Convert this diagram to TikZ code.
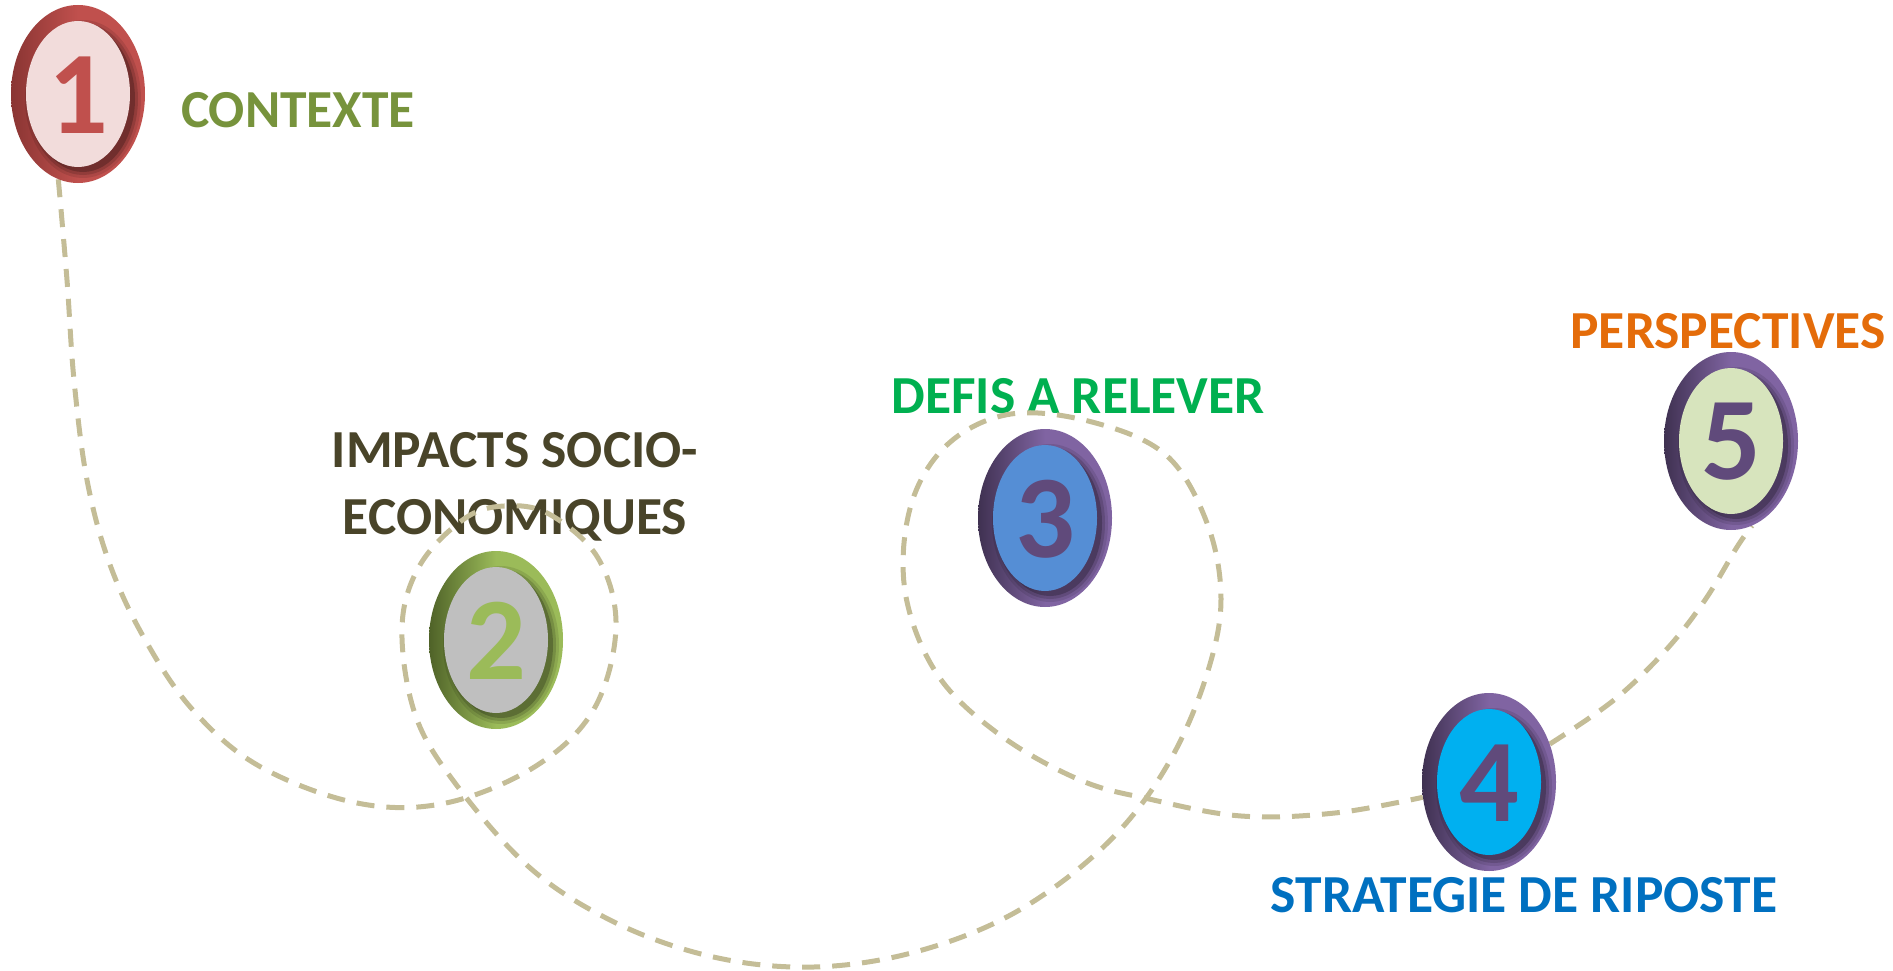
\documentclass[tikz,border=0pt]{standalone}
\usepackage{fontspec}
\setmainfont{Carlito}
\usetikzlibrary{shapes.geometric,calc}
\definecolor{tanc}{HTML}{C4BD97}
\definecolor{redring}{HTML}{C0504D}
\definecolor{reddark}{HTML}{8A3533}
\definecolor{redin}{HTML}{F2DCDB}
\definecolor{grnring}{HTML}{9BBB59}
\definecolor{grndark}{HTML}{4F6228}
\definecolor{greyin}{HTML}{BFBFBF}
\definecolor{purring}{HTML}{8064A2}
\definecolor{purdark}{HTML}{3F3151}
\definecolor{purnum}{HTML}{604A7B}
\definecolor{bluein}{HTML}{558ED5}
\definecolor{cyanin}{HTML}{00B0F0}
\definecolor{lgrnin}{HTML}{D7E4BD}
\definecolor{ctxc}{HTML}{77933C}
\definecolor{impc}{HTML}{494429}
\definecolor{defc}{HTML}{00B050}
\definecolor{perc}{HTML}{E46C0A}
\definecolor{strc}{HTML}{0070C0}
\pgfdeclarelayer{txt}
\pgfdeclarelayer{trk}
\pgfsetlayers{txt,trk,main}
\newcommand\mybadge[7]{%
  \node[ring, left color=#4, right color=#3, middle color=#3] (#1) at (#2) {};
  \foreach \r/\o in {6/0.10,3/0.15,0/0.22}
    \fill[black, opacity=\o] ($(#1.center)+(5,5)$) ellipse [x radius=52+\r, y radius=73+\r];
  \fill[#5] (#1.center) ellipse [x radius=52, y radius=73];
  \node[num, text=#6] (#1n) at ($(#1.center)+(0,1)$) {#7};
}
\begin{document}
\begin{tikzpicture}[x=1pt,y=-1pt,
  lbl/.style={font=\bfseries\fontsize{53.5}{64}\selectfont, anchor=base, inner sep=0},
  num/.style={font=\bfseries\fontsize{118}{130}\selectfont, inner sep=0},
  ring/.style={ellipse, minimum width=134pt, minimum height=178pt, inner sep=0, draw=none},
  track/.style={draw=tanc, line width=5pt, dash pattern=on 18pt off 12pt}
]
\useasboundingbox (0,0) rectangle (1893,971);

% badges
\mybadge{c1}{78,94}{redring}{reddark}{redin}{redring}{1}
\mybadge{c2}{496,640}{grnring}{grndark}{greyin}{grnring}{2}
\mybadge{c3}{1045,518}{purring}{purdark}{bluein}{purnum}{3}
\mybadge{c4}{1489,782}{purring}{purdark}{cyanin}{purnum}{4}
\mybadge{c5}{1731,441}{purring}{purdark}{lgrnin}{purnum}{5}

% labels
\begin{pgfonlayer}{txt}
\node[lbl, text=ctxc] (t1) at (298,128) {CONTEXTE};
\node[lbl, text=impc] (t2a) at (515,467) {IMPACTS SOCIO-};
\node[lbl, text=impc] (t2b) at (515,534) {ECONOMIQUES};
\node[lbl, text=defc] (t3) at (1078,413) {DEFIS A RELEVER};
\node[lbl, text=strc] (t4) at (1524,912) {STRATEGIE DE RIPOSTE};
\node[lbl, text=perc] (t5) at (1728,348) {PERSPECTIVES};
\end{pgfonlayer}

% track
\begin{pgfonlayer}{trk}
\draw[track] plot[smooth, tension=0.6] coordinates {
  (c1.257) (67,280) (74,380) (87,480) (109,562) (143,636) (192,709) (259,766)
  (357,803) (446,803) (536,766) (594,709) (616,627) (598,558) (549,514)
  (504,506) (464,519) (420,565) (402,627) (415,714) (455,783) (529,867)
  (610,920) (701,954) (793,967) (885,959) (977,931) (1052,889) (1121,829)
  (1172,757) (1207,674) (1221,599) (1207,523) (1166,455) (1092,422)
  (1011,414) (948,444) (911,505) (905,591) (937,674) (1000,735) (1080,780)
  (1149,799) (1241,816) (1335,813) (c4.193)};
\draw[track] plot[smooth, tension=0.6] coordinates {
  (c4.32) (1614,700) (1666,650) (1705,600) (1737,547) (c5.284)};
\end{pgfonlayer}
\end{tikzpicture}
\end{document}
